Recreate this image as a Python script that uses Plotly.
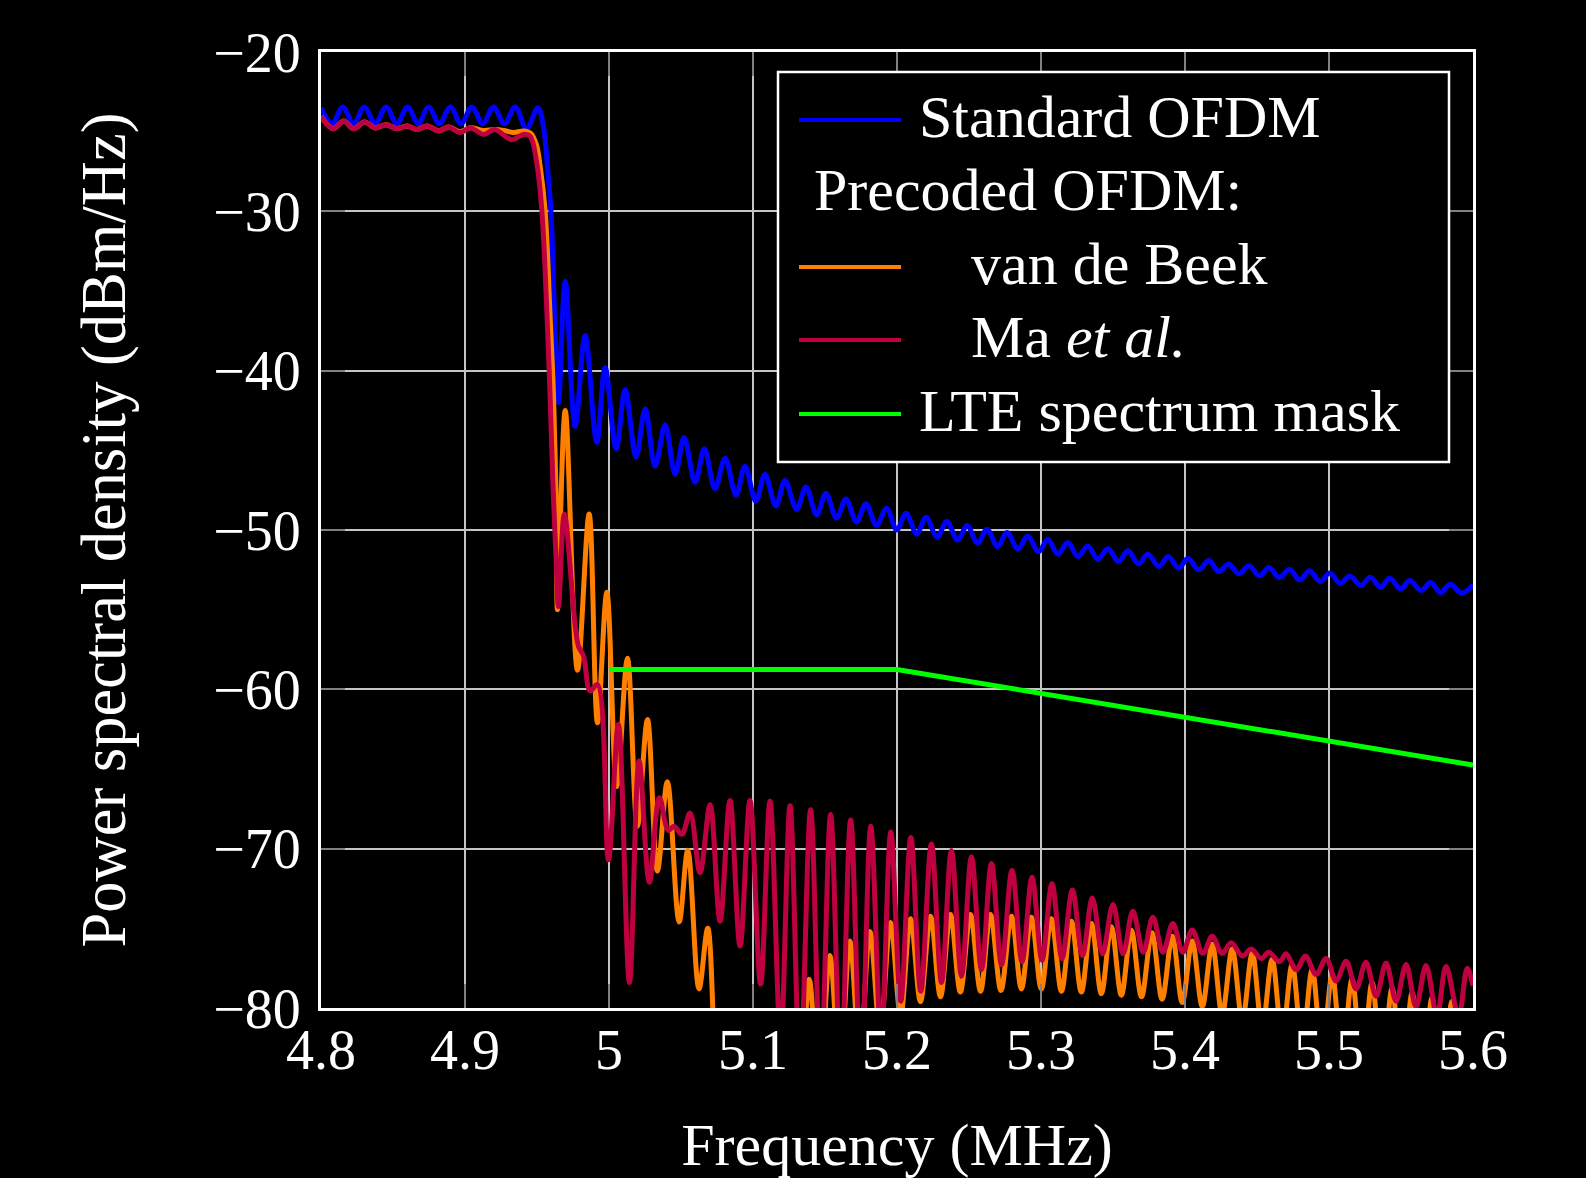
import plotly.graph_objects as go

# ---------------- data ----------------
x_ticks = [4.8, 4.9, 5.0, 5.1, 5.2, 5.3, 5.4, 5.5, 5.6]
x_ticktext = ["4.8", "4.9", "5", "5.1", "5.2", "5.3", "5.4", "5.5", "5.6"]
y_ticks = [-80, -70, -60, -50, -40, -30, -20]
y_ticktext = ["\u221280", "\u221270", "\u221260", "\u221250", "\u221240", "\u221230", "\u221220"]

std_f = [4.8000, 4.8077, 4.8151, 4.8226, 4.8301, 4.8376, 4.8452, 4.8527, 4.8602, 4.8675,
         4.8747, 4.8822, 4.8898, 4.8973, 4.9048, 4.9123, 4.9198, 4.9273, 4.9349, 4.9427,
         4.9506, 4.9545, 4.9575, 4.9597, 4.9620, 4.9637, 4.9650,
         4.9696, 4.9765, 4.9834, 4.9915, 4.9973, 5.0050, 5.0112, 5.0188, 5.0251, 5.0320,
         5.0390, 5.0459, 5.0521, 5.0598, 5.0662, 5.0736, 5.0806, 5.0882, 5.0944, 5.1020,
         5.1083, 5.1159, 5.1222, 5.1303, 5.1368, 5.1442, 5.1506, 5.1580, 5.1645, 5.1719,
         5.1784, 5.1858, 5.1928, 5.1998, 5.2063, 5.2137, 5.2202, 5.2278, 5.2346, 5.2421,
         5.2487, 5.2559, 5.2625, 5.2698, 5.2763, 5.2841, 5.2907, 5.2983, 5.3048, 5.3116,
         5.3186, 5.3257, 5.3324, 5.3395, 5.3465, 5.3538, 5.3604, 5.3677, 5.3742, 5.3818,
         5.3883, 5.3956, 5.4021, 5.4094, 5.4165, 5.4235, 5.4303, 5.4374, 5.4444, 5.4517,
         5.4583, 5.4655, 5.4726, 5.4796, 5.4864, 5.4940, 5.5005, 5.5078, 5.5144, 5.5222,
         5.5287, 5.5357, 5.5423, 5.5496, 5.5561, 5.5640, 5.5705, 5.5775, 5.5843, 5.5921,
         5.6000]
std_db = [-23.5, -24.5, -23.45, -24.5, -23.45, -24.5, -23.45, -24.5, -23.45, -24.5,
          -23.45, -24.5, -23.45, -24.5, -23.45, -24.5, -23.45, -24.5, -23.45, -24.8,
          -23.5, -24.7, -27.5, -30.0, -36.0, -40.0, -42.0,
          -34.4, -43.5, -37.8, -44.5, -39.8, -44.9, -41.2, -45.4, -42.4, -46.0,
          -43.4, -46.5, -44.2, -47.0, -44.9, -47.4, -45.5, -47.8, -46.0, -48.2,
          -46.5, -48.5, -46.9, -48.7, -47.3, -49.05, -47.7, -49.25, -48.05, -49.5,
          -48.35, -49.7, -48.63, -50.0, -48.95, -50.25, -49.2, -50.45, -49.47, -50.62,
          -49.72, -50.83, -49.95, -51.04, -50.16, -51.2, -50.37, -51.36, -50.58, -51.52,
          -50.79, -51.67, -51.0, -51.83, -51.17, -51.98, -51.31, -52.13, -51.5, -52.29,
          -51.67, -52.4, -51.77, -52.5, -51.92, -52.61, -52.13, -52.75, -52.25, -52.88,
          -52.36, -52.98, -52.46, -53.13, -52.56, -53.24, -52.7, -53.34, -52.88, -53.49,
          -52.96, -53.59, -53.03, -53.69, -53.17, -53.8, -53.3, -53.92, -53.4, -53.96,
          -53.44]

vdb_f = [4.8000, 4.8084, 4.8158, 4.8227, 4.8303, 4.8377, 4.8452, 4.8528, 4.8597, 4.8667,
         4.8736, 4.8817, 4.8886, 4.8967, 4.9036, 4.9129, 4.9205, 4.9268, 4.9337, 4.9406,
         4.9455, 4.9495, 4.9522, 4.9557, 4.9590, 4.9615, 4.9633, 4.9642,
         4.9696, 4.9781, 4.9862, 4.9920, 4.9985, 5.0054, 5.0128, 5.0197, 5.0267, 5.0336,
         5.0405, 5.0487, 5.0547, 5.0625, 5.0686, 5.0760, 5.0830, 5.0900, 5.0970, 5.1040,
         5.1110, 5.1180, 5.1250, 5.1320,
         5.1390, 5.1460, 5.1534, 5.1603, 5.1673, 5.1742, 5.1812, 5.1883, 5.1955, 5.2025,
         5.2094, 5.2163, 5.2233, 5.2302, 5.2371, 5.2440, 5.2510, 5.2580, 5.2649, 5.2722,
         5.2795, 5.2864, 5.2933, 5.3002, 5.3072, 5.3142, 5.3211, 5.3280, 5.3350, 5.3419,
         5.3488, 5.3558, 5.3627, 5.3698, 5.3770, 5.3841, 5.3912, 5.3981, 5.4050, 5.4120,
         5.4189, 5.4258, 5.4328, 5.4398, 5.4467, 5.4536, 5.4605, 5.4675, 5.4744, 5.4814,
         5.4883, 5.4952, 5.5022, 5.5091, 5.5160, 5.5230, 5.5299, 5.5368, 5.5438, 5.5508,
         5.5577, 5.5646, 5.5715, 5.5784, 5.5854, 5.5927, 5.6000]
vdb_db = [-24.04, -24.81, -24.33, -24.81, -24.39, -24.77, -24.56, -24.81, -24.64, -24.87,
          -24.64, -24.96, -24.7, -25.0, -24.75, -24.92, -24.87, -24.92, -25.05, -24.96,
          -25.1, -25.8, -27.2, -30.0, -36.4, -41.6, -48.0, -55.0,
          -42.5, -58.8, -49.0, -62.1, -53.9, -66.1, -58.05, -68.6, -61.9, -71.4,
          -65.8, -74.6, -70.1, -78.8, -75.0, -86.0, -81.5, -90.0, -86.0, -92.0,
          -85.0, -91.0, -81.0, -88.0,
          -78.2, -85.0, -76.7, -84.0, -75.8, -83.0, -75.2, -81.5, -74.64, -80.5,
          -74.4, -79.6, -74.24, -79.3, -74.13, -79.0, -74.13, -78.95, -74.13, -78.9,
          -74.24, -78.8, -74.3, -78.8, -74.4, -78.95, -74.56, -79.0, -74.7, -79.1,
          -74.9, -79.2, -75.12, -79.3, -75.28, -79.45, -75.5, -79.65, -75.8, -79.9,
          -76.0, -80.4, -76.3, -80.8, -76.57, -81.3, -76.95, -81.8, -77.27, -82.3,
          -77.58, -82.8, -77.9, -83.3, -78.2, -83.8, -78.4, -84.3, -78.74, -84.8,
          -79.05, -85.3, -79.36, -85.8, -79.57, -86.3, -82.0]

ma_f = [4.8000, 4.8084, 4.8158, 4.8227, 4.8303, 4.8377, 4.8452, 4.8528, 4.8597, 4.8667,
        4.8736, 4.8817, 4.8886, 4.8967, 4.9036, 4.9129, 4.9205, 4.9326, 4.9406, 4.9453,
        4.9499, 4.9534, 4.9569, 4.9591, 4.9610, 4.9633, 4.9649,
        4.9690, 4.9765, 4.9788, 4.9823, 4.9869, 4.9920, 4.9996, 5.0065, 5.0142, 5.0209,
        5.0280, 5.0350, 5.0412, 5.0452, 5.0505, 5.0563, 5.0632, 5.0702, 5.0771, 5.0840,
        5.0910, 5.0979, 5.1053, 5.1118, 5.1192, 5.1257, 5.1327, 5.1400, 5.1470, 5.1539,
        5.1610, 5.1678, 5.1750, 5.1818, 5.1890, 5.1957, 5.2026, 5.2096, 5.2165, 5.2239,
        5.2309, 5.2378, 5.2448, 5.2517, 5.2587, 5.2656, 5.2726, 5.2799, 5.2868, 5.2938,
        5.3007, 5.3076, 5.3146, 5.3218, 5.3288, 5.3357, 5.3427, 5.3500, 5.3570, 5.3638,
        5.3710, 5.3777, 5.3847, 5.3916, 5.3985, 5.4050, 5.4124, 5.4189, 5.4258, 5.4321,
        5.4398, 5.4460, 5.4529, 5.4582, 5.4656, 5.4702, 5.4772, 5.4837, 5.4910, 5.4980,
        5.5049, 5.5119, 5.5188, 5.5257, 5.5327, 5.5396, 5.5466, 5.5535, 5.5604, 5.5674,
        5.5750, 5.5813, 5.5900, 5.5960, 5.6000]
ma_db = [-24.04, -24.81, -24.33, -24.81, -24.39, -24.77, -24.56, -24.81, -24.64, -24.87,
         -24.64, -24.96, -24.7, -25.06, -24.75, -25.17, -24.87, -25.5, -25.17, -25.3,
         -27.0, -30.0, -36.4, -41.6, -46.9, -51.9, -54.8,
         -49.0, -56.0, -57.3, -57.9, -60.1, -59.7, -70.7, -62.2, -78.4, -64.5,
         -72.1, -66.8, -68.85, -68.6, -69.1, -67.76, -71.5, -67.24, -74.55, -66.97,
         -76.1, -66.97, -78.5, -67.03, -82.0, -67.3, -84.0, -67.55, -84.0, -67.86,
         -84.0, -68.2, -84.0, -68.6, -82.0, -68.95, -79.57, -69.3, -78.94, -69.7,
         -78.4, -70.12, -78.0, -70.5, -77.6, -70.93, -77.3, -71.35, -77.1, -71.8,
         -77.0, -72.2, -76.9, -72.6, -76.7, -73.1, -76.6, -73.5, -76.6, -73.93,
         -76.5, -74.3, -76.5, -74.7, -76.5, -75.1, -76.57, -75.5, -76.57, -75.9,
         -76.74, -76.3, -76.9, -76.5, -77.1, -76.6, -77.6, -76.74, -77.9, -76.9,
         -78.3, -77.07, -78.8, -77.13, -79.27, -77.17, -79.57, -77.27, -79.9, -77.33,
         -80.5, -77.4, -80.5, -77.5, -78.6]

mask_f = [5.0, 5.2, 5.6]
mask_db = [-58.75, -58.75, -64.75]

names = ["Standard OFDM", "van de Beek", "Ma <i>et al.</i>", "LTE spectrum mask"]
colors = ["#0000ff", "#ff8000", "#bf0040", "#00ff00"]

# ---------------- figure ----------------
FONT = "Liberation Serif"
W, H = 1586, 1178
PX0, PX1, PY0, PY1 = 321, 1473, 52, 1008


def xp(px):
    return (px - PX0) / (PX1 - PX0)


def yp(py):
    return (PY1 - py) / (PY1 - PY0)


fig = go.Figure()
series = [(std_f, std_db), (vdb_f, vdb_db), (ma_f, ma_db), (mask_f, mask_db)]
for (fx, fy), nm, col in zip(series, names, colors):
    shape = "linear" if fx is mask_f else "spline"
    fig.add_trace(go.Scatter(x=fx, y=fy, mode="lines", name=nm, showlegend=False,
                             line=dict(color=col, width=5, shape=shape, smoothing=1.0)))

axis_common = dict(showgrid=True, gridcolor="#c4c4c4", gridwidth=2,
                   showline=True, linecolor="#ffffff", linewidth=3, mirror="ticks",
                   ticks="inside", ticklen=24, tickwidth=2, tickcolor="#808080",
                   zeroline=False,
                   tickfont=dict(family=FONT, size=56, color="#ffffff"))

fig.update_xaxes(range=[4.8, 5.6], tickvals=x_ticks, ticktext=x_ticktext,
                 title_text="Frequency (MHz)", title_standoff=44,
                 title_font=dict(family=FONT, size=60, color="#ffffff"),
                 ticklabelstandoff=-9, **axis_common)
fig.update_yaxes(range=[-80, -20], tickvals=y_ticks, ticktext=y_ticktext,
                 title_text="Power spectral density (dBm/Hz)", title_standoff=68,
                 title_font=dict(family=FONT, size=62.5, color="#ffffff"),
                 ticklabelstandoff=6, **axis_common)

# ---------------- legend (drawn manually) ----------------
shapes = [dict(type="rect", xref="paper", yref="paper",
               x0=xp(778), x1=xp(1449), y0=yp(462), y1=yp(72),
               fillcolor="#000000", line=dict(color="#ffffff", width=2.5), layer="above")]
rows = [(120, colors[0], "Standard OFDM", 917),
        (193, None, "Precoded OFDM:", 812),
        (267, colors[1], "van de Beek", 969),
        (340, colors[2], "Ma <i>et al.</i>", 969),
        (414, colors[3], "LTE spectrum mask", 917)]
annotations = []
for py, col, txt, tx in rows:
    if col is not None:
        shapes.append(dict(type="line", xref="paper", yref="paper",
                           x0=xp(799), x1=xp(901), y0=yp(py), y1=yp(py),
                           line=dict(color=col, width=4), layer="above"))
    annotations.append(dict(xref="paper", yref="paper", x=xp(tx), y=yp(py - 3),
                            xanchor="left", yanchor="middle", showarrow=False,
                            text=txt, font=dict(family=FONT, size=60, color="#ffffff")))

fig.update_layout(width=W, height=H, paper_bgcolor="#000000", plot_bgcolor="#000000",
                  margin=dict(l=PX0, r=W - PX1, t=PY0, b=H - PY1, autoexpand=False),
                  showlegend=False, shapes=shapes, annotations=annotations)

fig.write_html("out.html", config={"displayModeBar": False},
               post_script="document.body.style.margin='0';"
                           "document.body.style.background='#000000';")
